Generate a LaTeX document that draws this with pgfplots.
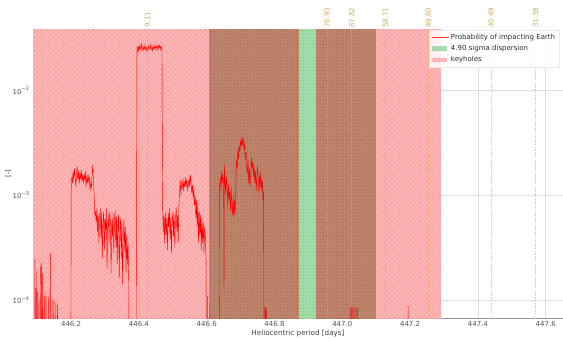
\documentclass[border=0pt]{standalone}
\usepackage{pgfplots}
\pgfplotsset{compat=1.18}
\usepackage{fontspec}
\setmainfont{DejaVu Sans}
\usetikzlibrary{patterns.meta}
\definecolor{pinkk}{RGB}{255,178,178}
\definecolor{brownn}{RGB}{186,124,100}
\definecolor{greenn}{RGB}{156,218,166}
\definecolor{hatchpink}{RGB}{244,152,152}
\definecolor{dotbrown}{RGB}{160,100,80}
\definecolor{dotgreen}{RGB}{118,188,130}
\definecolor{orng}{RGB}{240,165,60}
\definecolor{lbl}{RGB}{206,176,86}
\definecolor{gridc}{RGB}{222,222,222}
\definecolor{tickc}{RGB}{85,85,85}
\begin{document}
\begin{tikzpicture}
\useasboundingbox (0,0) rectangle (563pt,338pt);
\begin{axis}[
  at={(33pt,20pt)}, anchor=south west,
  scale only axis, width=530pt, height=288.7pt,
  xmin=446.0876, xmax=447.651,
  ymode=log, ymin=6.73e-5, ymax=0.0386,
  clip mode=individual,
  axis x line*=bottom, axis y line*=left,
  x axis line style={draw={rgb,255:red,150;green,150;blue,150}, line width=0.7pt, -},
  y axis line style={draw=none, -},
  xtick={446.2,446.4,446.6,446.8,447.0,447.2,447.4,447.6},
  ytick={1e-4,1e-3,1e-2},
  yticklabels={{10\textsuperscript{−4}},{10\textsuperscript{−3}},{10\textsuperscript{−2}}},
  yminorticks=false,
  major tick length=0pt,
  xticklabel style={/pgf/number format/.cd, fixed, fixed zerofill, precision=1, assume math mode=true},
  every tick label/.append style={font=\fontsize{7}{8}\selectfont, text=tickc},
  grid=major, major grid style={gridc, line width=0.6pt},
  xlabel={Heliocentric period [days]},
  ylabel={[-]},
  xlabel style={at={(axis description cs:0.5,-0.052)}, anchor=center, font=\fontsize{7.2}{8}\selectfont, text={rgb,255:red,68;green,68;blue,68}},
  ylabel style={at={(axis description cs:-0.047,0.5)}, anchor=center, rotate=0, font=\fontsize{7}{8}\selectfont, text={rgb,255:red,68;green,68;blue,68}},
  legend style={at={(0.747,0.998)}, anchor=north west, draw={rgb,255:red,235;green,235;blue,235}, fill=white, fill opacity=0.85, text opacity=1, font=\fontsize{7}{8}\selectfont, text={rgb,255:red,45;green,45;blue,45}, row sep=0.4pt, inner sep=2pt},
  legend cell align=left,
]
\addlegendimage{line legend, red!80, line width=0.8pt}
\addlegendimage{draw=none, legend image code/.code={\fill[greenn] (0cm,-0.08cm) rectangle (0.55cm,0.08cm); \fill[pattern={Dots[distance=2.5pt,radius=0.4pt]}, pattern color=dotgreen] (0cm,-0.08cm) rectangle (0.55cm,0.08cm);}}
\addlegendimage{draw=none, legend image code/.code={\fill[pinkk] (0cm,-0.08cm) rectangle (0.55cm,0.08cm); \fill[pattern={Lines[angle=45,distance=3.3pt,line width=0.3pt]}, pattern color=hatchpink] (0cm,-0.08cm) rectangle (0.55cm,0.08cm);}}
\legend{Probability of impacting Earth, 4.90 sigma dispersion, keyholes}

% keyholes (pink)
\addplot[draw=none, fill=pinkk, fill opacity=0.92, forget plot,
  postaction={pattern={Lines[angle=45,distance=3.3pt,line width=0.3pt]}, pattern color=hatchpink},
  postaction={pattern={Lines[angle=-45,distance=3.3pt,line width=0.3pt]}, pattern color=hatchpink}]
  coordinates {(446.0876,1e-6) (446.0876,1) (446.6055,1) (446.6055,1e-6)} -- cycle;
\addplot[draw=none, fill=pinkk, fill opacity=0.92, forget plot,
  postaction={pattern={Lines[angle=45,distance=3.3pt,line width=0.3pt]}, pattern color=hatchpink},
  postaction={pattern={Lines[angle=-45,distance=3.3pt,line width=0.3pt]}, pattern color=hatchpink}]
  coordinates {(447.099,1e-6) (447.099,1) (447.291,1) (447.291,1e-6)} -- cycle;
% overlap keyholes + dispersion (brown)
\addplot[draw=none, fill=brownn, fill opacity=0.95, forget plot,
  postaction={pattern={Dots[distance=3.3pt,radius=0.55pt]}, pattern color=dotbrown}]
  coordinates {(446.6055,1e-6) (446.6055,1) (446.872,1) (446.872,1e-6)} -- cycle;
\addplot[draw=none, fill=brownn, fill opacity=0.95, forget plot,
  postaction={pattern={Dots[distance=3.3pt,radius=0.55pt]}, pattern color=dotbrown}]
  coordinates {(446.923,1e-6) (446.923,1) (447.099,1) (447.099,1e-6)} -- cycle;
% dispersion only (green)
\addplot[draw=none, fill=greenn, fill opacity=0.95, forget plot,
  postaction={pattern={Dots[distance=3.3pt,radius=0.55pt]}, pattern color=dotgreen}]
  coordinates {(446.872,1e-6) (446.872,1) (446.923,1) (446.923,1e-6)} -- cycle;

% vertical orange lines
\pgfplotsset{orl/.style={orng, draw opacity=0.65, line width=0.7pt, dash pattern=on 1.4pt off 1.2pt, forget plot}}
\addplot[orl] coordinates {(446.425,1e-6) (446.425,1)};
\addplot[orl] coordinates {(446.955,1e-6) (446.955,1)};
\addplot[orl] coordinates {(447.028,1e-6) (447.028,1)};
\addplot[orl] coordinates {(447.127,1e-6) (447.127,1)};
\addplot[orl] coordinates {(447.254,1e-6) (447.254,1)};
\addplot[orl] coordinates {(447.439,1e-6) (447.439,1)};
\addplot[orl] coordinates {(447.570,1e-6) (447.570,1)};
\foreach \xx/\tt in {446.425/9.11, 446.955/76.93, 447.028/67.82, 447.127/58.71, 447.254/49.60, 447.439/40.49, 447.570/31.38}{
  \edef\temp{\noexpand\node[rotate=90, anchor=west, inner sep=1.5pt, font=\noexpand\fontsize{7}{8}\noexpand\selectfont, text=lbl] at (axis cs:\xx,0.0386) {\tt};}
  \temp
}

% probability of impacting Earth
\addplot[red, line width=0.45pt, forget plot] coordinates {
(446.0876,1e-6)(446.092,1e-6)(446.093,2.5e-4)(446.094,1e-6)(446.096,1.3e-4)(446.097,1e-6)
(446.099,1.9e-4)(446.100,1e-6)(446.102,1.2e-4)(446.103,1e-6)(446.106,1.0e-4)(446.107,1e-6)
(446.110,2.1e-4)(446.111,1.4e-4)(446.112,2.3e-4)(446.113,1e-6)(446.116,1.8e-4)(446.117,1e-6)
(446.121,1.1e-4)(446.122,1e-6)(446.126,1.2e-4)(446.127,1e-6)(446.133,1e-6)(446.134,1.1e-4)
(446.135,1e-6)(446.139,2.8e-4)(446.140,1e-6)(446.144,1.0e-4)(446.145,1e-6)(446.149,1.0e-4)
(446.150,1e-6)(446.155,9.5e-5)(446.156,1e-6)(446.160,9e-5)(446.161,1e-6)(446.199,1e-6)
(446.200,1.1e-3)(446.202,1.5e-3)(446.204,1.3e-3)(446.206,1.7e-3)(446.208,1.4e-3)(446.210,1.8e-3)
(446.212,1.5e-3)(446.214,1.2e-3)(446.216,1.6e-3)(446.218,1.9e-3)(446.220,1.4e-3)(446.222,1.7e-3)
(446.224,1.3e-3)(446.226,1.6e-3)(446.228,1.45e-3)(446.230,1.75e-3)(446.232,1.4e-3)(446.234,1.55e-3)
(446.236,1.3e-3)(446.238,1.6e-3)(446.240,1.4e-3)(446.242,1.7e-3)(446.244,1.2e-3)(446.246,1.5e-3)
(446.248,1.3e-3)(446.250,1.6e-3)(446.252,1.35e-3)(446.254,1.5e-3)(446.256,1.1e-3)(446.258,1.3e-3)
(446.260,1.2e-3)(446.262,1.6e-3)(446.264,1.95e-3)(446.266,1.4e-3)(446.268,1.0e-3)(446.270,6.5e-4)
(446.272,7e-4)(446.274,5.5e-4)(446.276,7.5e-4)(446.278,4.5e-4)(446.280,6.5e-4)(446.282,3.5e-4)
(446.284,6e-4)(446.286,7.5e-4)(446.288,4e-4)(446.290,6.8e-4)(446.292,2.5e-4)(446.294,5.5e-4)
(446.296,7e-4)(446.298,3e-4)(446.300,6e-4)(446.302,4.5e-4)(446.304,7.5e-4)(446.306,2e-4)
(446.308,5e-4)(446.310,6.5e-4)(446.312,3.5e-4)(446.314,7e-4)(446.316,5.5e-4)(446.318,1.8e-4)
(446.320,6e-4)(446.322,4e-4)(446.324,6.8e-4)(446.326,2.8e-4)(446.328,5.8e-4)(446.330,7.2e-4)
(446.332,3.2e-4)(446.334,6.2e-4)(446.336,2.2e-4)(446.338,5e-4)(446.340,6.5e-4)(446.342,1.6e-4)
(446.344,4.5e-4)(446.346,6e-4)(446.348,2.5e-4)(446.350,5.5e-4)(446.352,1.4e-4)(446.354,4e-4)
(446.356,5.8e-4)(446.358,3e-4)(446.360,5e-4)(446.362,1.8e-4)(446.364,4.2e-4)(446.366,2.2e-4)
(446.368,3.5e-4)(446.370,1.5e-4)(446.372,1e-6)(446.392,1e-6)(446.394,0.024)(446.396,0.026)
(446.398,0.0235)(446.400,0.027)(446.402,0.025)(446.404,0.0265)(446.406,0.0245)(446.408,0.028)
(446.410,0.0255)(446.412,0.024)(446.414,0.0262)(446.416,0.025)(446.418,0.0272)(446.420,0.0248)
(446.422,0.0258)(446.424,0.0238)(446.426,0.0252)(446.428,0.0265)(446.430,0.0245)(446.432,0.026)
(446.434,0.0275)(446.436,0.025)(446.438,0.0258)(446.440,0.0242)(446.442,0.0268)(446.444,0.0252)
(446.446,0.0262)(446.448,0.0248)(446.450,0.0276)(446.452,0.0255)(446.454,0.0265)(446.456,0.0245)
(446.458,0.027)(446.460,0.0258)(446.462,0.0272)(446.464,0.025)(446.466,0.0262)(446.468,0.0255)
(446.470,7.5e-4)(446.472,4.5e-4)(446.474,6.5e-4)(446.476,3.5e-4)(446.478,7e-4)(446.480,4.2e-4)
(446.482,6e-4)(446.484,3e-4)(446.486,6.8e-4)(446.488,5e-4)(446.490,7.5e-4)(446.492,3.8e-4)
(446.494,6.2e-4)(446.496,2.8e-4)(446.498,5.5e-4)(446.500,7e-4)(446.502,4e-4)(446.504,6.5e-4)
(446.506,3.2e-4)(446.508,6e-4)(446.510,7.7e-4)(446.512,4.5e-4)(446.514,6.5e-4)(446.516,3.5e-4)
(446.518,8e-4)(446.520,1.1e-3)(446.522,1.4e-3)(446.524,1.0e-3)(446.526,1.3e-3)(446.528,1.2e-3)
(446.530,1.45e-3)(446.532,1.1e-3)(446.534,1.35e-3)(446.536,1.2e-3)(446.538,1.5e-3)(446.540,1.25e-3)
(446.542,1.4e-3)(446.544,1.1e-3)(446.546,1.3e-3)(446.548,1.45e-3)(446.550,1.2e-3)(446.552,1.57e-3)
(446.554,1.3e-3)(446.556,1.05e-3)(446.558,1.25e-3)(446.560,9.5e-4)(446.562,1.15e-3)(446.564,8e-4)
(446.566,1.0e-3)(446.568,6e-4)(446.570,9e-4)(446.572,5e-4)(446.574,8e-4)(446.576,3.5e-4)
(446.578,7e-4)(446.580,4.2e-4)(446.582,6.5e-4)(446.584,3e-4)(446.586,6e-4)(446.588,3.5e-4)
(446.590,5.5e-4)(446.592,2.8e-4)(446.594,5e-4)(446.596,4e-4)(446.598,2.5e-4)(446.600,1e-6)
(446.602,1e-6)(446.603,1.1e-4)(446.604,1e-6)(446.608,1e-6)(446.609,9e-5)(446.610,1e-6)
(446.637,1e-6)(446.638,1.2e-3)(446.640,1.5e-3)(446.642,1.1e-3)(446.644,1.7e-3)(446.646,1.3e-3)
(446.648,1.6e-3)(446.650,1.2e-3)(446.651,1.2e-4)(446.652,1.95e-3)(446.654,1.4e-3)(446.656,1.0e-3)
(446.658,1.5e-3)(446.660,1.2e-3)(446.662,8e-4)(446.664,1.3e-3)(446.666,9e-4)(446.668,1.1e-3)
(446.670,7e-4)(446.672,1.2e-3)(446.674,8.5e-4)(446.676,6.5e-4)(446.678,1.0e-3)(446.680,6.2e-4)
(446.682,9e-4)(446.684,6.5e-4)(446.686,1.3e-3)(446.688,2.2e-3)(446.690,1.8e-3)(446.692,2.8e-3)
(446.694,2.2e-3)(446.696,3.0e-3)(446.698,2.6e-3)(446.700,3.4e-3)(446.702,2.9e-3)(446.704,3.6e-3)
(446.706,3.1e-3)(446.708,3.5e-3)(446.710,2.7e-3)(446.712,3.2e-3)(446.714,2.2e-3)(446.716,2.6e-3)
(446.718,1.9e-3)(446.720,1.6e-3)(446.722,2.2e-3)(446.724,1.3e-3)(446.726,1.8e-3)(446.728,1.2e-3)
(446.730,1.6e-3)(446.732,2.3e-3)(446.734,1.8e-3)(446.736,2.1e-3)(446.738,1.5e-3)(446.740,1.9e-3)
(446.742,1.3e-3)(446.744,1.7e-3)(446.746,1.1e-3)(446.748,1.5e-3)(446.750,1.9e-3)(446.752,1.4e-3)
(446.754,1.05e-3)(446.756,1.6e-3)(446.758,1.2e-3)(446.760,1.7e-3)(446.762,1.1e-3)(446.764,1.4e-3)
(446.766,9e-4)(446.768,1.1e-3)(446.769,1e-6)(446.771,1e-6)(446.772,8.5e-5)(446.773,1e-6)
(446.774,8.5e-5)(446.775,1e-6)(446.776,8e-5)(446.777,1e-6)(447.022,1e-6)(447.023,8.5e-5)
(447.024,1e-6)(447.027,8.5e-5)(447.028,1e-6)(447.031,8.5e-5)(447.032,1e-6)(447.035,8.5e-5)
(447.036,1e-6)(447.040,8.5e-5)(447.041,1e-6)(447.045,8.5e-5)(447.046,1e-6)(447.193,1e-6)
(447.194,8.8e-5)(447.195,1e-6)(447.651,1e-6)
};
\end{axis}
\end{tikzpicture}
\end{document}
